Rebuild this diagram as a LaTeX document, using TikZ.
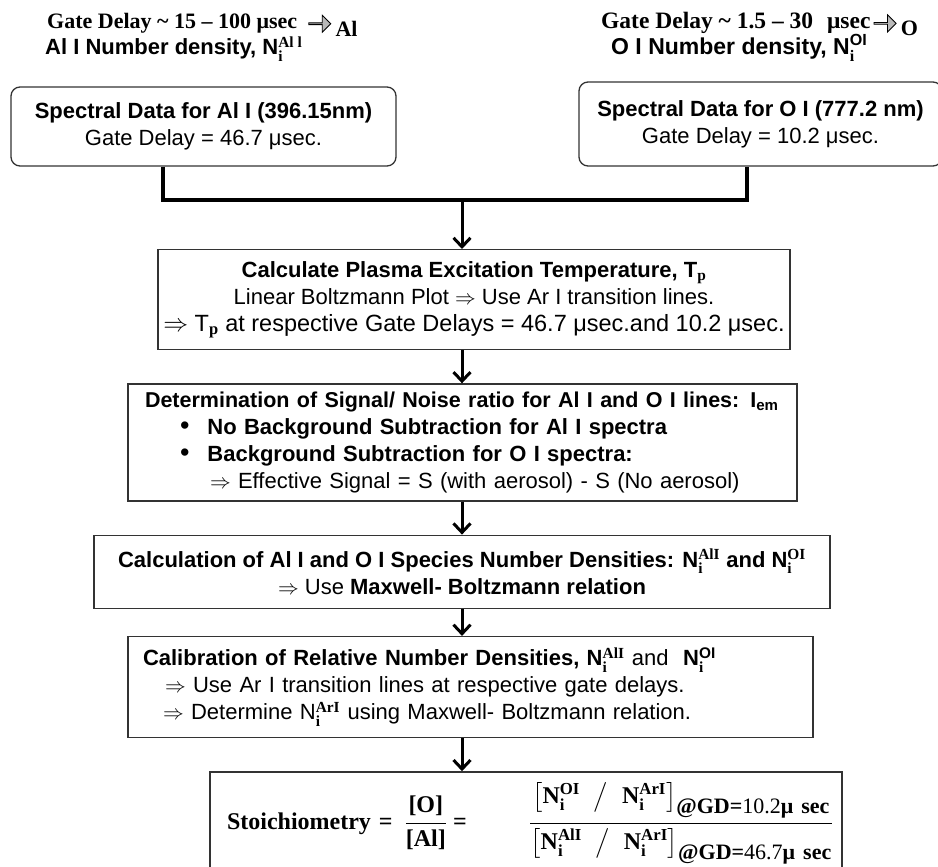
\documentclass[tikz,border=0pt]{standalone}
\usepackage{amsmath}
\usepackage{fontspec}
\setmainfont{Liberation Sans}
\newfontfamily\tnr{Liberation Serif}
\usepackage{tikz}
\usetikzlibrary{arrows.meta,positioning,shapes.arrows,calc}

% number density N_i^{...}, serif indices
\newcommand{\nds}[1]{N$_{\text{\tnr\bfseries i}}^{\text{\tnr\bfseries #1}}$}
\newcommand{\ndsf}[1]{N$_{\text{\tnr\bfseries i}}^{\text{\bfseries #1}}$}
% bracket term of the stoichiometry ratio
\newcommand{\gdterm}[2]{\bigl[\text{N}_{\text{i}}^{\text{#1}}\;\;\big/\;\;\text{N}_{\text{i}}^{\text{ArI}}\bigr]_{\text{\fontsize{22}{22}\selectfont @GD=\mdseries #2\bfseries μ sec}}}

\begin{document}
\begin{tikzpicture}[
  x=1pt, y=1pt,
  font=\fontsize{22}{27}\selectfont,
  blk/.style={draw=black!80, line width=1.3pt, align=center, inner sep=0pt},
  rbk/.style={blk, rounded corners=9pt},
  arr/.style={-{Straight Barb[length=9pt,width=17pt]}, line width=3pt},
  thk/.style={line width=3.6pt},
  garr/.style={single arrow, draw, fill=gray!55, line width=0.8pt, minimum height=22pt,
    minimum width=17pt, single arrow head extend=3.5pt, inner sep=0pt},
  hd/.style={font=\fontsize{22}{26}\selectfont\tnr\bfseries, inner sep=0pt}
]
\useasboundingbox (0,0) rectangle (938,-867);

% header lines
\node[hd, anchor=base west] (gdAl) at (47,-29) {Gate Delay \textasciitilde{} 15 – 100 μsec};
\node[garr, right=11pt of gdAl] (arAl) {};
\node[hd, right=4pt of arAl, yshift=-5pt] (elAl) {Al};
\node[anchor=base west, inner sep=0pt, font=\fontsize{22}{26}\selectfont\bfseries] (nAl) at (45,-55)
  {Al I Number density, \nds{Al l}};

\node[hd, anchor=base west, font=\fontsize{23.5}{26}\selectfont\tnr\bfseries] (gdO) at (601,-29)
  {Gate Delay \textasciitilde{} 1.5 – 30\hspace{14pt}μsec};
\node[garr, right=3pt of gdO] (arO) {};
\node[hd, right=4pt of arO, yshift=-5pt] (elO) {O};
\node[anchor=base west, inner sep=0pt, font=\fontsize{23}{26}\selectfont\bfseries] (nO) at (611,-55)
  {O I Number density, \ndsf{OI}};

% spectral data
\node[rbk, minimum width=385pt, minimum height=79pt] (spAl) at (203.5,-126.5)
  {\textbf{Spectral Data for Al I (396.15nm)}\\Gate Delay = 46.7 μsec.};
\node[rbk, minimum width=363pt, minimum height=84pt] (spO) at (760.5,-124)
  {\textbf{Spectral Data for O I (777.2 nm)}\\Gate Delay = 10.2 μsec.};

\coordinate (mrg) at (462,-200);
\coordinate (jl) at (163,-200);
\coordinate (jr) at (747,-200);
\draw[thk] (spAl.south -| jl) -- (jl) -- (jr) -- (spO.south -| jr);

% flow
\node[blk, below=49pt of mrg, xshift=12pt, minimum width=632pt, minimum height=100pt] (tp)
  {\textbf{Calculate Plasma Excitation Temperature, T$_{\text{\tnr\bfseries p}}$}\\
   Linear Boltzmann Plot $\Rightarrow$ Use Ar I transition lines.\\
   {\fontsize{23.5}{27}\selectfont$\Rightarrow$ T$_{\text{\tnr\bfseries p}}$ at respective Gate Delays = 46.7 μsec.and 10.2 μsec.}};
\node[blk, below=33pt of tp, xshift=-11.5pt, minimum width=669pt, minimum height=117pt,
  align=left, text width=647pt] (snr)
  {\hspace*{6pt}{\fontsize{21.5}{27}\selectfont\textbf{Determination of Signal/ Noise ratio for Al I and O I lines: I$_{\text{\bfseries em}}$}}\\
   \hspace*{41pt}\raisebox{-0.5pt}{\fontsize{27}{20}\selectfont •}\hspace{18pt}\textbf{No Background Subtraction for Al I spectra}\\
   \hspace*{41pt}\raisebox{-0.5pt}{\fontsize{27}{20}\selectfont •}\hspace{18pt}\textbf{Background Subtraction for O I spectra:}\\
   \hspace*{71pt}$\Rightarrow$ Effective Signal = S (with aerosol) - S (No aerosol)};
\node[blk, below=33pt of snr, xshift=-0.5pt, minimum width=736pt, minimum height=73pt] (nden)
  {\textbf{Calculation of Al I and O I Species Number Densities: \nds{AlI} and \nds{OI}}\\
   $\Rightarrow$ Use \textbf{Maxwell- Boltzmann relation}};
\node[blk, below=27pt of nden, xshift=8.5pt, minimum width=685pt, minimum height=101pt,
  align=left, text width=655pt] (cal)
  {\textbf{Calibration of Relative Number Densities, \nds{AlI}} and \ \textbf{\ndsf{OI}}\\
   \hspace*{22pt}$\Rightarrow$ Use Ar I transition lines at respective gate delays.\\
   \hspace*{20pt}$\Rightarrow$ Determine N$_{\text{\tnr\bfseries i}}^{\text{\tnr\bfseries ArI}}$ using Maxwell- Boltzmann relation.};
\node[blk, below=33pt of cal, xshift=55.5pt, minimum width=632pt, minimum height=103pt,
  align=left, text width=614pt, font=\fontsize{24}{28}\selectfont\tnr\bfseries] (stc)
  {\hspace*{8pt}Stoichiometry =\hspace{12pt}$\genfrac{}{}{1.2pt}{0}{\text{[O]}}{\text{[Al]}}$\hspace{6pt}=\hfill
   $\genfrac{}{}{1.5pt}{0}{\gdterm{OI}{10.2}}{\gdterm{AlI}{46.7}}$};

\draw[arr] (mrg) -- (tp.north -| mrg);
\foreach \a/\b in {tp/snr, snr/nden, nden/cal, cal/stc}
  \draw[arr] (\a.south -| mrg) -- (\b.north -| mrg);
\end{tikzpicture}
\end{document}
